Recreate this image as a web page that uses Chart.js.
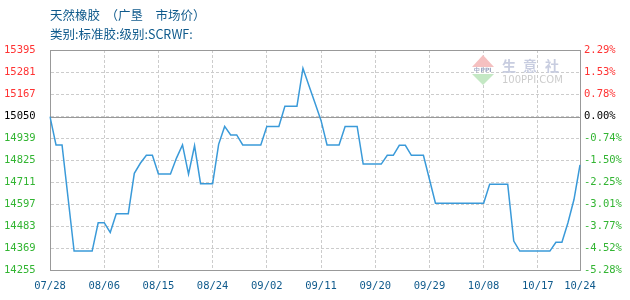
<!DOCTYPE html>
<html>
<head>
<meta charset="utf-8">
<script src="https://cdn.jsdelivr.net/npm/chart.js@4/dist/chart.umd.min.js"></script>
<style>
html,body{margin:0;padding:0;background:#fff;}
#wrap{width:630px;height:300px;}
</style>
</head>
<body>
<div id="wrap"><canvas id="c" width="630" height="300"></canvas></div>
<script>
const dates = [
"07/28","07/29","07/30","07/31","08/01","08/02","08/03","08/04","08/05","08/06",
"08/07","08/08","08/09","08/10","08/11","08/12","08/13","08/14","08/15","08/16",
"08/17","08/18","08/19","08/20","08/21","08/22","08/23","08/24","08/25","08/26",
"08/27","08/28","08/29","08/30","08/31","09/01","09/02","09/03","09/04","09/05",
"09/06","09/07","09/08","09/09","09/10","09/11","09/12","09/13","09/14","09/15",
"09/16","09/17","09/18","09/19","09/20","09/21","09/22","09/23","09/24","09/25",
"09/26","09/27","09/28","09/29","09/30","10/01","10/02","10/03","10/04","10/05",
"10/06","10/07","10/08","10/09","10/10","10/11","10/12","10/13","10/14","10/15",
"10/16","10/17","10/18","10/19","10/20","10/21","10/22","10/23","10/24"
];
const prices = [
15050,14903,14903,14628,14353,14353,14353,14353,14500,14500,
14450,14547,14547,14547,14756,14808,14849,14849,14752,14752,
14752,14835,14903,14752,14899,14702,14702,14702,14906,14999,
14955,14955,14903,14903,14903,14903,14999,14999,14999,15103,
15103,15103,15300,15210,15120,15030,14903,14903,14903,14999,
14999,14999,14804,14804,14804,14804,14849,14849,14901,14901,
14849,14849,14849,14725,14601,14601,14601,14601,14601,14601,
14601,14601,14601,14699,14699,14699,14699,14405,14353,14353,
14353,14353,14353,14353,14399,14399,14500,14620,14800
];
const xTickLabels = ["07/28","08/06","08/15","08/24","09/02","09/11","09/20","09/29","10/08","10/17","10/24"];
const leftTickLabels = ["15395","15281","15167","15050","14939","14825","14711","14597","14483","14369","14255"];
const rightTickLabels = ["2.29%","1.53%","0.78%","0.00%","-0.74%","-1.50%","-2.25%","-3.01%","-3.77%","-4.52%","-5.28%"];
const yMin = 14255, yMax = 15395;
const baseValue = 15050;
const titleLines = ["天然橡胶  （广垦　市场价）", "类别:标准胶:级别:SCRWF:"];

const RED = '#ff3333', GREEN = '#33b533', BLACK = '#000000', BLUE = '#0f5a8c';
const tickFont = {family: '"DejaVu Sans Mono", monospace', size: 10.5};

function yTicks(scale){
  const n = leftTickLabels.length;
  const step = (yMax - yMin) / (n - 1);
  const t = [];
  for (let i = 0; i < n; i++) t.push({value: yMin + i * step});
  scale.ticks = t;
}
function tickColor(ctx){
  const n = leftTickLabels.length;
  const topIdx = n - 1 - ctx.index;
  if (topIdx < 3) return RED;
  if (topIdx === 3) return BLACK;
  return GREEN;
}

const framePlugin = {
  id: 'frame',
  beforeDatasetsDraw(chart){
    const {ctx, chartArea: a, scales} = chart;
    ctx.save();
    // watermark
    ctx.fillStyle = '#f5c0c0';
    ctx.beginPath(); ctx.moveTo(483,55); ctx.lineTo(494,67); ctx.lineTo(472,67); ctx.closePath(); ctx.fill();
    ctx.fillStyle = '#c4e8c4';
    ctx.beginPath(); ctx.moveTo(472,74); ctx.lineTo(494,74); ctx.lineTo(483,85); ctx.closePath(); ctx.fill();
    ctx.fillStyle = '#9aa4c0';
    ctx.font = 'bold 6px "DejaVu Sans"';
    ctx.textAlign = 'center'; ctx.textBaseline = 'middle';
    ctx.fillText('中PPI', 483, 70.5);
    ctx.fillStyle = '#c8cde0';
    ctx.font = 'bold 14px "Noto Sans CJK SC"';
    ctx.textAlign = 'left';
    ctx.fillText('生', 502, 66); ctx.fillText('意', 523, 66); ctx.fillText('社', 545, 66);
    ctx.fillStyle = '#cccccc';
    ctx.font = '10px "DejaVu Sans"';
    ctx.fillText('100PPI.COM', 502, 80);
    // base line
    const y = Math.round(scales.y.getPixelForValue(baseValue)) + 0.5;
    ctx.strokeStyle = '#999999'; ctx.lineWidth = 1; ctx.setLineDash([]);
    ctx.beginPath(); ctx.moveTo(a.left, y); ctx.lineTo(a.right, y); ctx.stroke();
    // frame
    ctx.strokeRect(Math.round(a.left)+0.5, Math.round(a.top)+0.5, Math.round(a.right-a.left), Math.round(a.bottom-a.top));
    ctx.restore();
  }
};

new Chart(document.getElementById('c'), {
  type: 'line',
  data: {
    labels: dates,
    datasets: [{
      data: prices,
      borderColor: '#3a9ad9',
      borderWidth: 1.5,
      pointRadius: 0,
      pointHoverRadius: 0,
      tension: 0,
      fill: false
    }]
  },
  options: {
    responsive: false,
    animation: false,
    events: [],
    layout: {padding: {left: 4, right: 0, top: 0, bottom: 0}},
    plugins: {
      legend: {display: false},
      tooltip: {enabled: false},
      title: {
        display: true,
        text: titleLines,
        align: 'start',
        fullSize: false,
        color: BLUE,
        font: {family: '"Noto Sans CJK SC", sans-serif', size: 12.5, weight: 'normal', lineHeight: '19px'},
        padding: {top: 6, bottom: 6}
      }
    },
    scales: {
      x: {
        type: 'category',
        offset: false,
        afterBuildTicks(scale){
          scale.ticks = scale.ticks.filter(t => xTickLabels.includes(dates[t.value]));
        },
        afterFit(scale){ scale.height = 30; },
        ticks: {
          autoSkip: false, maxRotation: 0, minRotation: 0,
          padding: 10,
          color: BLUE,
          font: tickFont,
          callback(v){ return dates[v]; }
        },
        grid: {color: '#cccccc', drawTicks: false, lineWidth: 1},
        border: {display: true, color: '#999999', dash: [3, 2]}
      },
      y: {
        position: 'left',
        min: yMin, max: yMax,
        afterBuildTicks: yTicks,
        afterFit(scale){ scale.width = 46; },
        ticks: {
          crossAlign: 'far',
          padding: 4,
          color: tickColor,
          font: tickFont,
          callback(v, i){ return leftTickLabels[leftTickLabels.length - 1 - i]; }
        },
        grid: {color: '#cccccc', drawTicks: false, lineWidth: 1},
        border: {display: true, color: '#999999', dash: [3, 2]}
      },
      y1: {
        position: 'right',
        min: yMin, max: yMax,
        afterBuildTicks: yTicks,
        afterFit(scale){ scale.width = 50; },
        ticks: {
          padding: 4,
          color: tickColor,
          font: tickFont,
          callback(v, i){ return rightTickLabels[rightTickLabels.length - 1 - i]; }
        },
        grid: {drawOnChartArea: false, drawTicks: false},
        border: {display: true, color: '#999999'}
      }
    }
  },
  plugins: [framePlugin]
});
</script>
</body>
</html>
